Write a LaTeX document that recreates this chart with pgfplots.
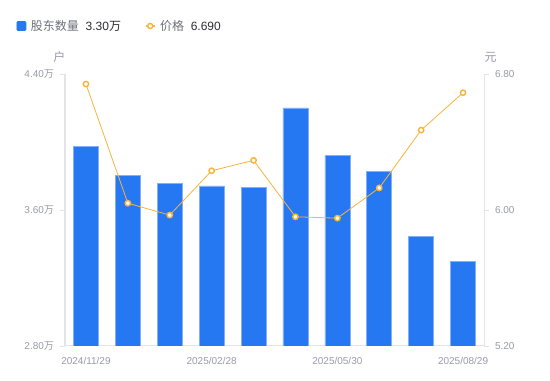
\documentclass[border=0pt]{standalone}
\usepackage{pgfplots}
\pgfplotsset{compat=1.18}
\usepackage{fontspec}
\setmainfont{Liberation Sans}
\newfontfamily\cjk{Noto Sans CJK SC}
\definecolor{barblue}{RGB}{38,120,242}
\definecolor{baredge}{RGB}{130,175,250}
\definecolor{lineorange}{RGB}{248,180,60}
\definecolor{ticklab}{RGB}{152,154,168}
\definecolor{axisgray}{RGB}{226,228,232}
\definecolor{legtext}{RGB}{110,112,122}
\definecolor{valtext}{RGB}{45,45,50}
\begin{document}
\begin{tikzpicture}[x=1pt,y=1pt]
\useasboundingbox (0,0) rectangle (412.5,285.75);
\pgfplotsset{
 common/.style={
  scale only axis, width=314.25pt, height=204pt,
  at={(48.75pt,26.25pt)}, anchor=south west,
  xmin=-0.5, xmax=9.5,
  xtick={0,3,6,9},
  xticklabels={2024/11/29,2025/02/28,2025/05/30,2025/08/29},
  tick label style={font=\fontsize{7.5}{9}\selectfont, text=ticklab},
  /pgf/number format/assume math mode=true,
  axis line style={draw=axisgray, line width=0.75pt},
  tick style={draw=axisgray, line width=0.6pt},
  major tick length=3.75pt, tick align=outside,
  xtick style={draw=none},
 }}
\begin{axis}[common,
  axis y line*=left, axis x line*=bottom,
  ymin=2.8, ymax=4.4, ytick={2.8,3.6,4.4},
  yticklabels={2.80{\cjk 万},3.60{\cjk 万},4.40{\cjk 万}},
  yticklabel style={xshift=-1pt},
  xticklabel style={yshift=-1pt},
  ybar, bar width=18.75pt,
  legend columns=2,
  legend style={at={(0,1)}, anchor=west, xshift=-36.5pt, yshift=36pt, draw=none, fill=none, inner sep=0pt,
     font=\fontsize{9}{11}\selectfont, /tikz/every even column/.append style={column sep=16pt}},
  legend cell align=left,
]
\addplot[fill=barblue, draw=baredge, line width=0.5pt,
  legend image code/.code={\fill[barblue, rounded corners=0.8pt] (0pt,-3.4pt) rectangle (6.8pt,3.4pt);}]
 coordinates {(0,3.974) (1,3.805) (2,3.756) (3,3.742) (4,3.733) (5,4.200) (6,3.919) (7,3.827) (8,3.444) (9,3.297)};
\addlegendentry{\hspace{1.5pt}{\cjk\color{legtext}股东数量}\hspace{5pt}\textcolor{valtext}{3.30{\cjk 万}}}
\addlegendimage{legend image code/.code={\draw[lineorange, line width=0.8pt] (0pt,0pt)--(7pt,0pt); \draw[lineorange, fill=white, line width=1.1pt] (3.5pt,0pt) circle (1.9pt);}}
\addlegendentry{\hspace{1.5pt}{\cjk\color{legtext}价格}\hspace{5pt}\textcolor{valtext}{6.690}}
\end{axis}
\begin{axis}[common,
  axis y line*=right, axis x line=none,
  ymin=5.2, ymax=6.8, ytick={5.2,6.0,6.8},
  yticklabel style={xshift=1pt},
  /pgf/number format/fixed, /pgf/number format/fixed zerofill, /pgf/number format/precision=2,
]
\addplot[lineorange, line width=0.6pt, mark=*, mark size=2pt,
  mark options={fill=white, draw=lineorange, line width=1.1pt}]
 coordinates {(0,6.741) (1,6.040) (2,5.970) (3,6.231) (4,6.292) (5,5.960) (6,5.952) (7,6.130) (8,6.470) (9,6.690)};
\end{axis}
\node[text=ticklab, font=\fontsize{9}{10}\selectfont\cjk] at (44.5pt,243pt) {户};
\node[text=ticklab, font=\fontsize{9}{10}\selectfont\cjk] at (368pt,243pt) {元};
\end{tikzpicture}
\end{document}
